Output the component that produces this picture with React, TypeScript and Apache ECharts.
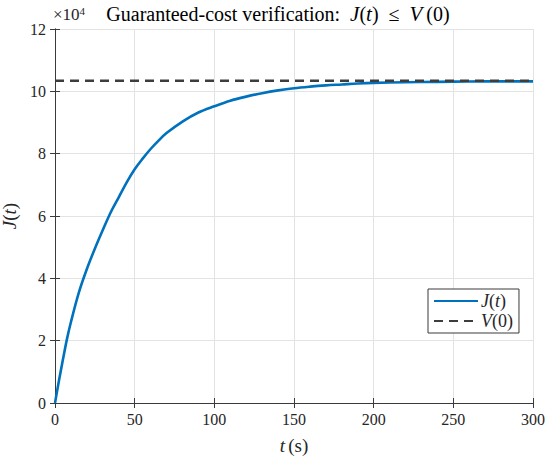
import React, { useEffect, useRef } from "react";
import * as echarts from "echarts";

const tValues = [0, 2.5, 5, 7.5, 10, 15, 20, 25, 30, 35, 40, 45, 50, 55, 60, 65, 70, 80, 90, 100, 110, 120, 130, 140, 150, 160, 170, 180, 190, 200, 220, 240, 260, 280, 300];
const jValues = [0, 7200, 14000, 20500, 26000, 35500, 43000, 49500, 55500, 61200, 66000, 70800, 75000, 78400, 81500, 84200, 86600, 90300, 93200, 95200, 97000, 98300, 99400, 100300, 101000, 101500, 101900, 102200, 102500, 102700, 102900, 103050, 103150, 103200, 103200];
const vBound = 103400;
const vT = [0, 300];
const xTicks = { min: 0, max: 300, interval: 50 };
const yTicks = { min: 0, max: 120000, interval: 20000 };

const FONT = "'Liberation Serif', 'DejaVu Serif', serif";

export default function App() {
  const ref = useRef<HTMLDivElement>(null);
  useEffect(() => {
    document.body.style.margin = "0";
    const chart = echarts.init(ref.current!, null, { renderer: "svg" });
    const axisColor = "#3a3a3a";
    const gridColor = "#e3e3e3";
    const baseX = {
      type: "value" as const,
      min: xTicks.min,
      max: xTicks.max,
      interval: xTicks.interval,
      axisLine: { show: true, lineStyle: { color: axisColor, width: 1 } },
      axisTick: { show: true, inside: true, length: 5, lineStyle: { color: axisColor } },
    };
    const baseY = {
      type: "value" as const,
      min: yTicks.min,
      max: yTicks.max,
      interval: yTicks.interval,
      axisLine: { show: true, lineStyle: { color: axisColor, width: 1 } },
      axisTick: { show: true, inside: true, length: 5, lineStyle: { color: axisColor } },
    };
    chart.setOption({
      animation: false,
      grid: { left: 55, right: 17, top: 29, bottom: 55, containLabel: false, outerBoundsMode: "none" },
      xAxis: [
        {
          ...baseX,
          position: "bottom",
          axisLabel: { color: "#262626", fontFamily: FONT, fontSize: 16, margin: 8 },
          splitLine: { show: true, lineStyle: { color: gridColor, width: 1 } },
          name: "{i|t} {n|(s)}",
          nameLocation: "middle",
          nameGap: 33,
          nameTextStyle: {
            rich: {
              i: { fontFamily: FONT, fontStyle: "italic", fontSize: 19, color: "#262626" },
              n: { fontFamily: FONT, fontSize: 19, color: "#262626" },
            },
          },
        },
        { ...baseX, position: "top", axisLabel: { show: false }, splitLine: { show: false } },
      ],
      yAxis: [
        {
          ...baseY,
          position: "left",
          axisLabel: {
            color: "#262626",
            fontFamily: FONT,
            fontSize: 16,
            margin: 9,
            formatter: (v: number) => String(v / 10000),
          },
          splitLine: { show: true, lineStyle: { color: gridColor, width: 1 } },
          name: "{i|J}{n|(}{i|t}{n|)}",
          nameLocation: "middle",
          nameGap: 31,
          nameRotate: 90,
          nameTextStyle: {
            rich: {
              i: { fontFamily: FONT, fontStyle: "italic", fontSize: 19, color: "#262626" },
              n: { fontFamily: FONT, fontSize: 19, color: "#262626" },
            },
          },
        },
        { ...baseY, position: "right", axisLabel: { show: false }, splitLine: { show: false } },
      ],
      legend: {
        orient: "vertical",
        left: 428,
        top: 289,
        width: 90,
        padding: [3, 6, 3, 5],
        itemGap: 2,
        itemWidth: 44,
        itemHeight: 18,
        backgroundColor: "#ffffff",
        borderColor: "#3a3a3a",
        borderWidth: 1,
        borderRadius: 0,
        data: ["J", "V"],
        itemStyle: { opacity: 0, color: "transparent", borderColor: "transparent", borderWidth: 0 },
        formatter: (name: string) => (name === "J" ? "{i|J}{n|(}{i|t}{n|)}" : "{i|V}{n|(0)}"),
        textStyle: {
          padding: [0, 0, 0, -2],
          rich: {
            i: { fontFamily: FONT, fontStyle: "italic", fontSize: 18, color: "#262626" },
            n: { fontFamily: FONT, fontSize: 18, color: "#262626" },
          },
        },
      },
      series: [
        {
          name: "J",
          type: "line",
          data: tValues.map((t, i) => [t, jValues[i]]),
          showSymbol: false,
          symbol: "none",
          smooth: 0.35,
          lineStyle: { color: "#0072BD", width: 2.6 },
          itemStyle: { color: "#0072BD" },
          z: 3,
        },
        {
          name: "V",
          type: "line",
          data: vT.map((t) => [t, vBound]),
          showSymbol: false,
          symbol: "none",
          lineStyle: { color: "#3d3d3d", width: 2.6, type: [9, 6] },
          itemStyle: { color: "#3d3d3d" },
          z: 4,
        },
      ],
      graphic: [
        {
          type: "text",
          x: 278,
          y: 14,
          style: {
            text: "{n|Guaranteed-cost verification:  }{i|J}{n|(}{i|t}{n|)  ≤  }{i|V}{n|\u2009(0)}",
            align: "center",
            verticalAlign: "middle",
            rich: {
              i: { fontFamily: FONT, fontStyle: "italic", fontSize: 21, fill: "#000" },
              n: { fontFamily: FONT, fontSize: 20, fill: "#000" },
            },
          },
        },
        {
          type: "text",
          x: 53,
          y: 5,
          style: {
            text: "{a|×10}{b|4}",
            align: "left",
            verticalAlign: "top",
            rich: {
              a: { fontFamily: FONT, fontSize: 17, fill: "#262626", verticalAlign: "bottom", lineHeight: 18 },
              b: { fontFamily: FONT, fontSize: 11, fill: "#262626", verticalAlign: "top", lineHeight: 18, padding: [0, 0, 8, 0] },
            },
          },
        },
      ],
    });
    return () => chart.dispose();
  }, []);
  return <div ref={ref} style={{ width: 550, height: 458 }} />;
}
